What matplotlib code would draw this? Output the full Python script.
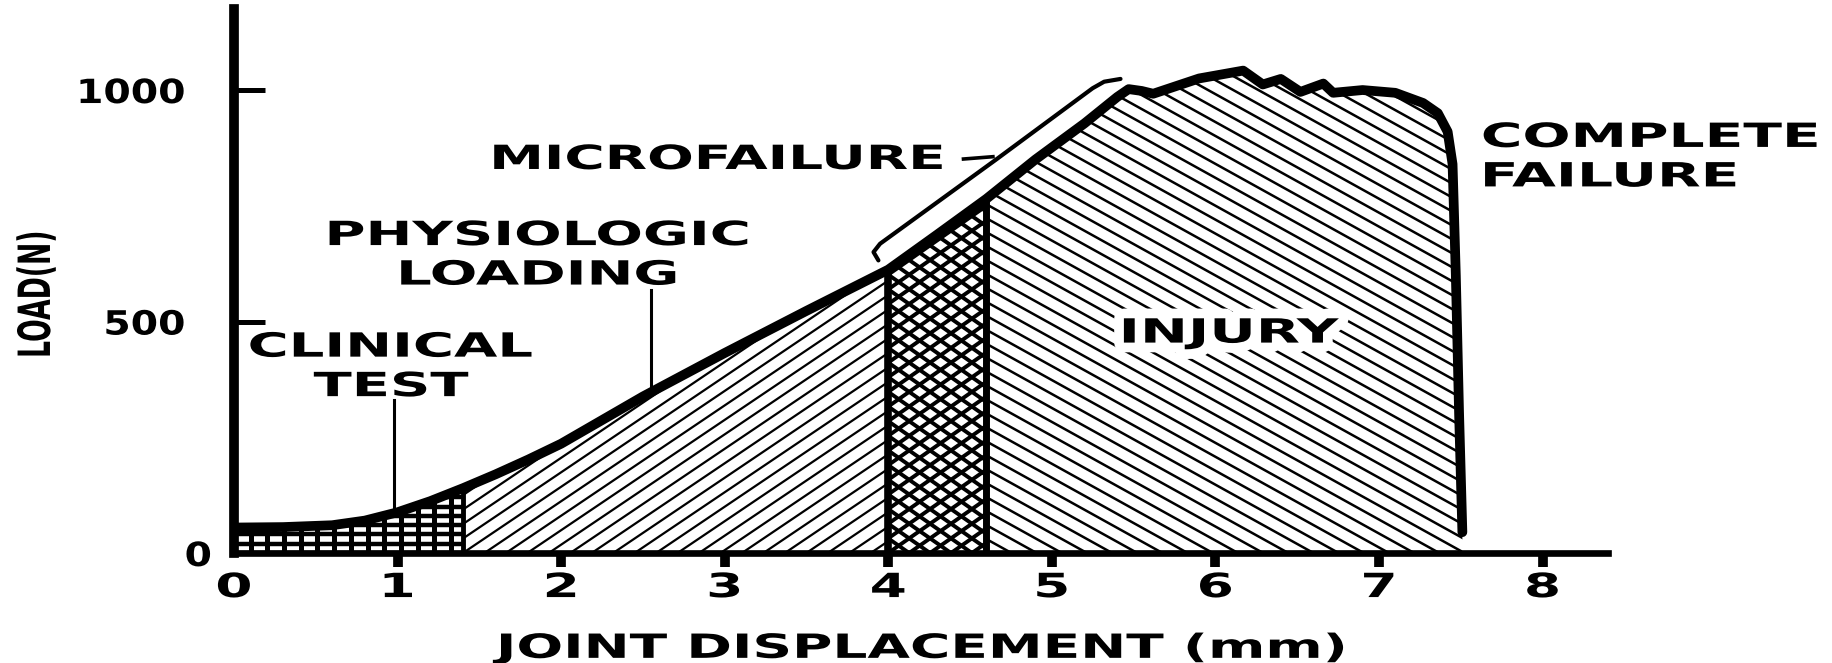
import numpy as np
import matplotlib
matplotlib.use('Agg')
import matplotlib.pyplot as plt
from matplotlib.collections import LineCollection
from matplotlib.patheffects import AbstractPathEffect
from matplotlib.transforms import Affine2D

# load-displacement curve of the joint (mm, N)
disp = [0.0, 0.3, 0.6, 0.8, 1.0, 1.2, 1.4, 1.6, 1.8, 2.0, 2.5, 3.0, 3.5, 4.0, 4.3, 4.6,
        4.9, 5.2, 5.4, 5.47, 5.55, 5.62, 5.9, 6.17, 6.29, 6.4, 6.52, 6.66, 6.72, 6.9,
        7.1, 7.27, 7.36, 7.42, 7.45, 7.47, 7.49, 7.51]
load = [55, 56, 60, 70, 88, 112, 140, 170, 202, 236, 338, 432, 523, 612, 688, 765,
        850, 928, 985, 1002, 998, 992, 1025, 1042, 1012, 1024, 996, 1014, 994, 1000,
        994, 972, 950, 910, 840, 600, 300, 45]

# zone limits along the displacement axis
zone_edges = [0.0, 1.4, 4.0, 4.6, 7.51]

# microfailure bracket drawn just above the curve
bracket_x = [3.94, 3.91, 3.95, 4.66, 5.25, 5.32, 5.42]
bracket_y = [632, 650, 668, 850, 1004, 1018, 1024]

x_ticks = [0, 1, 2, 3, 4, 5, 6, 7, 8]
y_ticks = [0, 500, 1000]

plt.rcParams['font.family'] = 'DejaVu Sans'
plt.rcParams['font.weight'] = 'bold'

disp_a = np.array(disp)
load_a = np.array(load)


class Stretch(AbstractPathEffect):
    """Widen glyphs along the baseline (the original uses extended lettering)."""

    def __init__(self, sx, anchor='center', halo=0):
        super().__init__()
        self.sx, self.anchor, self.halo = sx, anchor, halo

    def draw_path(self, renderer, gc, tpath, affine, rgbFace=None):
        ext = tpath.get_extents()
        ox = {'left': ext.x0, 'right': ext.x1}.get(self.anchor, (ext.x0 + ext.x1) / 2)
        tr = Affine2D().translate(-ox, 0).scale(self.sx, 1).translate(ox, 0) + affine
        if self.halo:
            gc0 = renderer.new_gc()
            gc0.copy_properties(gc)
            gc0.set_foreground('white')
            gc0.set_linewidth(self.halo)
            renderer.draw_path(gc0, tpath, tr, (1, 1, 1))
            gc0.restore()
        renderer.draw_path(gc, tpath, tr, rgbFace)


fig = plt.figure(figsize=(18.32, 6.63), dpi=100)
ax = fig.add_axes([0.1277, 0.1659, 0.750, 0.8205])
ax.set_xlim(0, 8.4)
ax.set_ylim(0, 1175)


def hatch_zone(x0, x1, patterns):
    """Fill the area under the curve between x0 and x1 with line patterns
    given as (angle_deg, step_px, linewidth_pt)."""
    m = (disp_a >= x0) & (disp_a <= x1)
    area = ax.fill_between(disp_a[m], 0, load_a[m], facecolor='white', lw=0, zorder=1)
    clip = area.get_paths()[0]
    corners = ax.transData.transform([(x0, 0), (x1, 0), (x0, load_a[m].max()),
                                      (x1, load_a[m].max())])
    origin = corners[0]
    r = np.hypot(*(corners.max(0) - corners.min(0))) * 1.5
    inv = ax.transData.inverted()
    for angle, step, lw in patterns:
        a = np.radians(angle)
        u = np.array([np.cos(a), np.sin(a)])
        nrm = np.array([-np.sin(a), np.cos(a)])
        n = int(r / step) + 1
        segs = []
        for k in range(-n, n + 1):
            p = origin + nrm * k * step
            segs.append(inv.transform([p - u * r, p + u * r]))
        lc = LineCollection(segs, colors='black', linewidths=lw, zorder=2)
        lc.set_clip_path(clip, ax.transData)
        ax.add_collection(lc)


# clinical test: small grid, physiologic: fine rising lines,
# microfailure: dense cross-hatch, injury: falling lines
hatch_zone(zone_edges[0], zone_edges[1], [(0, 9.3, 3.2), (90, 16.7, 3.6)])
hatch_zone(zone_edges[1], zone_edges[2], [(34, 12.0, 1.6)])
hatch_zone(zone_edges[2], zone_edges[3], [(35, 12.0, 2.8), (-35, 12.0, 2.8)])
hatch_zone(zone_edges[3], zone_edges[4], [(-29, 12.2, 1.8)])

# zone boundaries
for xb, lw in zip(zone_edges[1:4], [3.5, 5.5, 5.0]):
    ax.plot([xb, xb], [0, np.interp(xb, disp_a, load_a)], color='black', lw=lw,
            solid_capstyle='butt', zorder=3)

ax.plot(disp_a, load_a, color='black', lw=7, solid_capstyle='round',
        solid_joinstyle='round', zorder=4)

# bracket and leader lines
ax.plot(bracket_x, bracket_y, color='black', lw=3, solid_capstyle='round', zorder=4)
ax.plot([4.46, 4.64], [851, 856], color='black', lw=2.6, zorder=4)
ax.plot([0.98, 0.98], [np.interp(0.98, disp_a, load_a), 330], color='black', lw=2.2, zorder=4)
ax.plot([2.55, 2.55], [np.interp(2.55, disp_a, load_a), 568], color='black', lw=2.2, zorder=4)

# labels
lab = dict(fontsize=24, fontweight='bold', linespacing=1.25, zorder=5)
ax.text(0.96, 402, 'CLINICAL\nTEST', ha='center', va='center',
        path_effects=[Stretch(1.68)], **lab)
ax.text(1.86, 643, 'PHYSIOLOGIC\nLOADING', ha='center', va='center',
        path_effects=[Stretch(1.68)], **lab)
ax.text(2.96, 850, 'MICROFAILURE', ha='center', va='center',
        path_effects=[Stretch(1.65)], **lab)
ax.text(6.09, 475, 'INJURY', ha='center', va='center',
        path_effects=[Stretch(1.72, halo=14)], **lab)
ax.text(7.63, 855, 'COMPLETE\nFAILURE', ha='left', va='center',
        path_effects=[Stretch(1.7, anchor='left')], **lab)

# axes
for side in ['top', 'right']:
    ax.spines[side].set_visible(False)
ax.spines['left'].set_linewidth(7)
ax.spines['bottom'].set_linewidth(4.8)

ax.set_xticks(x_ticks)
ax.set_yticks(y_ticks)
ax.tick_params(axis='x', direction='out', length=10, width=7, pad=3, labelsize=24)
ax.tick_params(axis='y', direction='in', length=22, width=3.6, pad=35, labelsize=24)
ax.xaxis.get_major_ticks()[0].tick1line.set_visible(False)
ax.yaxis.get_major_ticks()[0].set_pad(16)
for t in ax.get_xticklabels():
    t.set_path_effects([Stretch(1.6)])
for t in ax.get_yticklabels():
    t.set_path_effects([Stretch(1.18, anchor='right')])

ax.set_xlabel('JOINT DISPLACEMENT (mm)', fontsize=24, fontweight='bold', labelpad=20)
ax.xaxis.label.set_path_effects([Stretch(1.65)])
ax.text(-0.143, 0.476, 'LOAD(N)', transform=ax.transAxes, rotation=90,
        ha='center', va='center', fontsize=32, fontweight='bold',
        path_effects=[Stretch(0.6)])

fig.savefig('out.png', dpi=100, facecolor='white')
